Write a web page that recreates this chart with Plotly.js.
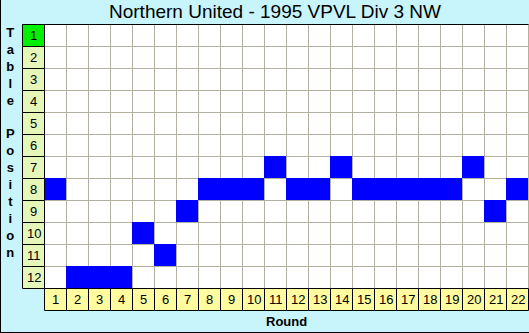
<!DOCTYPE html>
<html><head><meta charset="utf-8">
<script src="https://cdn.plot.ly/plotly-3.0.1.min.js"></script>
<style>
html,body{margin:0;padding:0;background:#c8f4fc;}
#wrap{position:relative;width:529px;height:333px;}
#chart{width:529px;height:333px;}
#frame{position:absolute;left:0;top:0;width:529px;height:333px;box-sizing:border-box;border-left:1px solid #000;border-bottom:1px solid #000;pointer-events:none;}
</style>
</head><body><div id="wrap"><div id="chart"></div><div id="frame"></div></div>
<script>
const titleText = "Northern United - 1995 VPVL Div 3 NW";
const xTitle = "Round";
const yTitle = "Table Position";
const rounds = [1,2,3,4,5,6,7,8,9,10,11,12,13,14,15,16,17,18,19,20,21,22];
const positions = [8,12,12,12,10,11,9,8,8,8,7,8,8,7,8,8,8,8,8,7,9,8];
const tableRows = [1,2,3,4,5,6,7,8,9,10,11,12];

const W = 529, H = 333, L = 22, T = 24, B = 22, R = 0;
const px = 1/22, d = 0.5*px;
const nR = rounds.length, nP = tableRows.length;
const PW = W - L - R, PH = H - T - B;
const paperX = p => (p - L) / PW;
const paperY = p => (H - B - p) / PH;

const z = tableRows.map(r => rounds.map((c, i) => positions[i] === r ? 1 : null));

const shapes = [];
shapes.push({type:'rect', layer:'below', xref:'x', yref:'y', x0:0.5, x1:nR+0.5, y0:0.5, y1:nP+0.5, fillcolor:'#ffffff', line:{width:0}});
for (let i = 0; i <= nR; i++) {
  const x = 0.5 + i + d;
  shapes.push({type:'line', layer:'below', xref:'x', yref:'y', x0:x, x1:x, y0:0.5, y1:nP+0.5, line:{color:'#b4b0a0', width:1}});
}
for (let j = 0; j <= nP; j++) {
  const y = 0.5 + j + d;
  shapes.push({type:'line', layer:'below', xref:'x', yref:'y', x0:0.5, x1:nR+0.5, y0:y, y1:y, line:{color:'#b4b0a0', width:1}});
}
shapes.push({type:'line', layer:'above', xref:'x', yref:'y', x0:-0.5, x1:nR+0.5+d, y0:0.5+d, y1:0.5+d, line:{color:'#000', width:1}});

const annotations = [];
tableRows.forEach(r => {
  shapes.push({type:'rect', layer:'above', xref:'x', yref:'y', x0:-0.5+d, x1:0.5+d, y0:r-0.5+d, y1:r+0.5+d,
    fillcolor: r === 1 ? '#00f000' : '#e4f6b8', line:{color:'#000', width:1}});
  annotations.push({x:0+d, y:r+d, xref:'x', yref:'y', text:String(r), showarrow:false,
    font:{family:'Liberation Sans, Arial, sans-serif', size:13, color:'#000'}});
});
rounds.forEach(c => {
  shapes.push({type:'rect', layer:'above', xref:'x', yref:'y', x0:c-0.5+d, x1:c+0.5+d, y0:nP+0.5+d, y1:nP+1.5+d,
    fillcolor:'#fffca0', line:{color:'#000', width:1}});
  annotations.push({x:c+d, y:nP+1+d, xref:'x', yref:'y', text:String(c), showarrow:false,
    font:{family:'Liberation Sans, Arial, sans-serif', size:13, color:'#000'}});
});

annotations.push({xref:'paper', yref:'paper', x:paperX(275), y:paperY(12), xanchor:'center', yanchor:'middle',
  text:titleText, showarrow:false, font:{family:'Liberation Sans, Arial, sans-serif', size:19, color:'#000'}});
annotations.push({xref:'x', yref:'paper', x:(nR+1)/2, y:paperY(321.5), xanchor:'center', yanchor:'middle',
  text:'<b>'+xTitle+'</b>', showarrow:false, font:{family:'Liberation Sans, Arial, sans-serif', size:13, color:'#000'}});
annotations.push({xref:'paper', yref:'paper', x:paperX(10.5), y:paperY(142.5), xanchor:'center', yanchor:'middle',
  text:'<b>'+yTitle.split('').map(ch => ch === ' ' ? '\u00a0' : ch).join('<br>')+'</b>', showarrow:false,
  font:{family:'Liberation Sans, Arial, sans-serif', size:13, color:'#000'}});

const trace = {type:'heatmap', x:rounds, y:tableRows, z:z,
  colorscale:[[0,'#0000ff'],[1,'#0000ff']], zmin:0, zmax:1, showscale:false, hoverinfo:'skip'};

const layout = {
  width:W, height:H, margin:{l:L, r:R, t:T, b:B, pad:0},
  paper_bgcolor:'rgba(0,0,0,0)', plot_bgcolor:'rgba(0,0,0,0)',
  xaxis:{range:[-0.5, nR+0.5+px], showgrid:false, zeroline:false, showticklabels:false, ticks:'', showline:false, fixedrange:true},
  yaxis:{range:[nP+1.5+px, 0.5], showgrid:false, zeroline:false, showticklabels:false, ticks:'', showline:false, fixedrange:true},
  shapes:shapes, annotations:annotations, showlegend:false
};
Plotly.newPlot('chart', [trace], layout, {staticPlot:true, displayModeBar:false});
</script>
</body></html>
